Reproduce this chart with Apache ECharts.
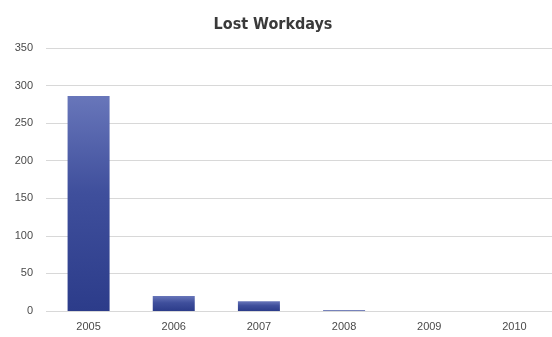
<!DOCTYPE html>
<html>
<head>
<meta charset="utf-8">
<script src="https://cdn.jsdelivr.net/npm/echarts@6/dist/echarts.min.js"></script>
<style>
  html, body { margin: 0; padding: 0; background: #fff; overflow: hidden; }
  #chart { width: 557px; height: 337px; }
</style>
</head>
<body>
<div id="chart"></div>
<script>
// Lost workdays per year
const years = ['2005', '2006', '2007', '2008', '2009', '2010'];
const lostWorkdays = [286, 20, 13, 1, 0, 0];
const yTicks = [0, 50, 100, 150, 200, 250, 300, 350];

const chart = echarts.init(document.getElementById('chart'));
chart.setOption({
  animation: false,
  title: {
    text: 'Lost Workdays',
    left: 268,
    textAlign: 'center',
    top: 12,
    textStyle: {
      fontFamily: '"DejaVu Sans Condensed", "Liberation Sans Narrow", sans-serif',
      fontWeight: 'bold',
      fontSize: 16,
      color: '#3a3a3a'
    }
  },
  grid: { left: 46, top: 48, right: 0, height: 263, containLabel: false },
  xAxis: {
    type: 'category',
    data: years,
    axisLine: { show: false },
    axisTick: { show: false },
    axisLabel: {
      color: '#4a4a4a',
      fontSize: 11,
      fontFamily: '"Liberation Sans", Arial, sans-serif',
      margin: 10
    }
  },
  yAxis: {
    type: 'value',
    min: yTicks[0],
    max: yTicks[yTicks.length - 1],
    interval: 50,
    axisLine: { show: false },
    axisTick: { show: false },
    axisLabel: {
      color: '#4a4a4a',
      fontSize: 11,
      fontFamily: '"Liberation Sans", Arial, sans-serif',
      margin: 13
    },
    splitLine: { lineStyle: { color: '#d8d8d8', width: 1 } }
  },
  series: [{
    type: 'bar',
    data: lostWorkdays,
    barWidth: 42,
    itemStyle: {
      color: new echarts.graphic.LinearGradient(0, 0, 0, 1, [
        { offset: 0, color: '#6876ba' },
        { offset: 0.45, color: '#3f4f9c' },
        { offset: 1, color: '#2c3c8a' }
      ])
    }
  }]
});
</script>
</body>
</html>
